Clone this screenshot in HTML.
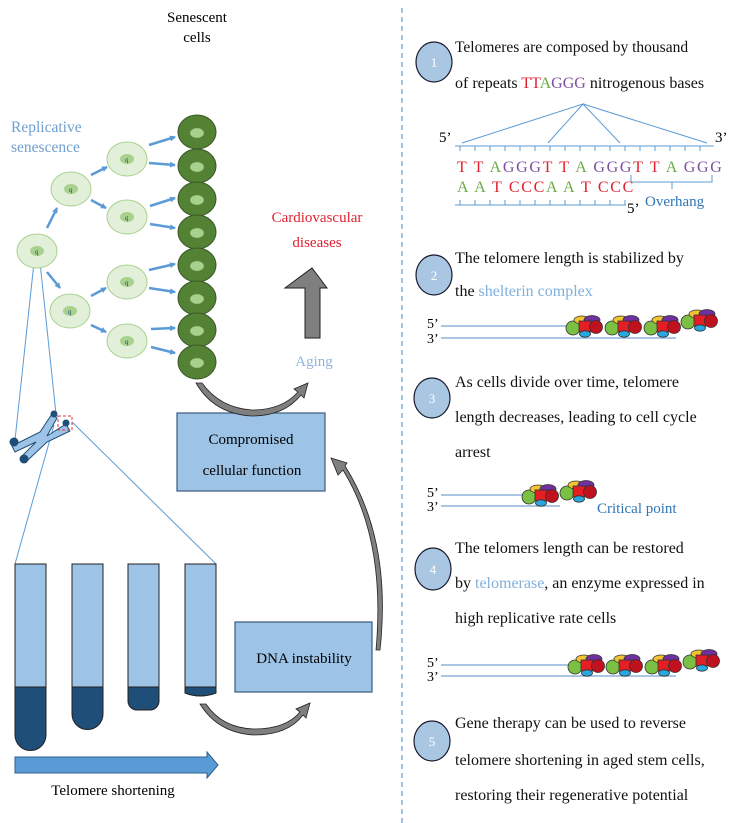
<!DOCTYPE html>
<html><head><meta charset="utf-8"><style>
html,body{margin:0;padding:0;background:#fff}
svg{display:block}
text{font-family:"Liberation Serif",serif}
</style></head><body>
<svg width="737" height="823" viewBox="0 0 737 823" xmlns="http://www.w3.org/2000/svg">
<defs>
<marker id="ba" markerWidth="6" markerHeight="6" refX="5" refY="3" orient="auto" markerUnits="userSpaceOnUse"><path d="M0,0 L6,3 L0,6 z" fill="#5b9bd5"/></marker>
<g id="cx">
<circle cx="0" cy="7" r="7" fill="#7ac143" stroke="#333" stroke-width="0.8"/>
<ellipse cx="9" cy="-1" rx="8" ry="4" fill="#f2c431" stroke="#333" stroke-width="0.8"/>
<ellipse cx="19" cy="-1" rx="8" ry="4.5" fill="#7030a0" stroke="#333" stroke-width="0.8"/>
<rect x="6" y="0" width="12" height="11" fill="#e31e24" stroke="#333" stroke-width="0.8"/>
<circle cx="23" cy="6" r="6.5" fill="#c0111f" stroke="#333" stroke-width="0.8"/>
<ellipse cx="12" cy="13" rx="5.5" ry="3.2" fill="#29a8e0" stroke="#333" stroke-width="0.8"/>
</g>
<g id="yc"><ellipse cx="0" cy="0" rx="20" ry="17" fill="#e2f0d9" stroke="#a9d18e" stroke-width="1"/><ellipse cx="0" cy="0" rx="7" ry="5" fill="#a9d18e"/><text x="-2" y="3" font-size="7" fill="#1f4e79">q</text></g>
<g id="oc"><ellipse cx="0" cy="0" rx="19" ry="17" fill="#548235" stroke="#385723" stroke-width="1"/><ellipse cx="0" cy="1" rx="7" ry="5" fill="#a9d18e" stroke="#6e9b4a" stroke-width="0.5"/></g>
</defs>

<line x1="402" y1="8" x2="402" y2="823" stroke="#5b9bd5" stroke-width="1.2" stroke-dasharray="5,4"/>

<text x="197" y="22" font-size="15" text-anchor="middle" fill="#000">Senescent</text>
<text x="197" y="42" font-size="15" text-anchor="middle" fill="#000">cells</text>
<text x="11" y="132" font-size="15.5" fill="#6f9fcf">Replicative</text>
<text x="11" y="152" font-size="15.5" fill="#6f9fcf">senescence</text>

<g stroke="#5b9bd5" stroke-width="1" fill="none">
<line x1="35" y1="253" x2="15" y2="440"/>
<line x1="39" y1="253" x2="56" y2="414"/>
<line x1="54" y1="425" x2="15" y2="564"/>
<line x1="72" y1="422" x2="216" y2="564"/>
</g>

<g stroke="#5b9bd5" stroke-width="2.5" marker-end="url(#ba)">
<line x1="47" y1="228" x2="57" y2="208"/>
<line x1="47" y1="272" x2="60" y2="288"/>
<line x1="91" y1="175" x2="107" y2="167"/>
<line x1="91" y1="200" x2="106" y2="208"/>
<line x1="91" y1="296" x2="106" y2="288"/>
<line x1="91" y1="325" x2="106" y2="332"/>
<line x1="149" y1="145" x2="175" y2="137"/>
<line x1="149" y1="163" x2="175" y2="165"/>
<line x1="150" y1="206" x2="175" y2="198"/>
<line x1="150" y1="224" x2="175" y2="228"/>
<line x1="149" y1="270" x2="175" y2="264"/>
<line x1="149" y1="288" x2="175" y2="292"/>
<line x1="151" y1="329" x2="175" y2="328"/>
<line x1="151" y1="347" x2="175" y2="353"/>
</g>

<use href="#yc" x="37" y="251"/>
<use href="#yc" x="71" y="189"/>
<use href="#yc" x="70" y="311"/>
<use href="#yc" x="127" y="159"/>
<use href="#yc" x="127" y="217"/>
<use href="#yc" x="127" y="282"/>
<use href="#yc" x="127" y="341"/>

<use href="#oc" x="197" y="132"/>
<use href="#oc" x="197" y="166"/>
<use href="#oc" x="197" y="199"/>
<use href="#oc" x="197" y="232"/>
<use href="#oc" x="197" y="265"/>
<use href="#oc" x="197" y="298"/>
<use href="#oc" x="197" y="330"/>
<use href="#oc" x="197" y="362"/>

<g stroke="#1f4e79" stroke-width="1" fill="#9dc3e6">
<path d="M12,446 L40,432 L52,414 L57,418 L47,436 L66,424 L70,431 L47,442 L28,460 L22,456 L36,442 L15,452 z"/>
</g>
<circle cx="14" cy="442" r="4.5" fill="#1f4e79"/>
<circle cx="24" cy="459" r="4.5" fill="#1f4e79"/>
<circle cx="54" cy="414" r="3.5" fill="#1f4e79"/>
<circle cx="66" cy="423" r="3.5" fill="#1f4e79"/>
<rect x="58" y="416" width="14" height="14" fill="none" stroke="#e03030" stroke-width="1" stroke-dasharray="3,2"/>

<g stroke="#222" stroke-width="1">
<rect x="15" y="564" width="31" height="123" fill="#9dc3e6"/>
<path d="M15,687 H46 V735 A15.5,15.5 0 0 1 15,735 z" fill="#1f4e79"/>
<rect x="72" y="564" width="31" height="123" fill="#9dc3e6"/>
<path d="M72,687 H103 V714 A15.5,15.5 0 0 1 72,714 z" fill="#1f4e79"/>
<rect x="128" y="564" width="31" height="123" fill="#9dc3e6"/>
<path d="M128,687 H159 V701 A9,9 0 0 1 150,710 H137 A9,9 0 0 1 128,701 z" fill="#1f4e79"/>
<rect x="185" y="564" width="31" height="123" fill="#9dc3e6"/>
<path d="M185,687 H216 V693 Q200,699 185,693 z" fill="#1f4e79"/>
</g>
<path d="M15,757 H207 V752 L218,765 L207,778 V773 H15 z" fill="#5b9bd5" stroke="#2e5f8f" stroke-width="1"/>
<text x="113" y="795" font-size="15" text-anchor="middle" fill="#000">Telomere shortening</text>

<rect x="177" y="413" width="148" height="78" fill="#9dc3e6" stroke="#3b5a7a" stroke-width="1.2"/>
<text x="251" y="444" font-size="15" text-anchor="middle">Compromised</text>
<text x="252" y="475" font-size="15" text-anchor="middle">cellular function</text>
<rect x="235" y="622" width="137" height="70" fill="#9dc3e6" stroke="#3b5a7a" stroke-width="1.2"/>
<text x="304" y="663" font-size="15" text-anchor="middle">DNA instability</text>

<g fill="#7f7f7f" stroke="#222" stroke-width="0.8">
<path d="M196,383 L202,383 Q220,408 252,410 Q282,410 298,392 L294,389 L308,383 L304,398 L301,395 Q284,416 252,416 Q214,414 196,383 z"/>
<path d="M200,704 L206,704 Q222,728 254,729 Q286,729 300,712 L296,709 L310,703 L306,718 L303,715 Q288,735 254,735 Q218,733 200,704 z"/>
<path d="M376,650 Q386,540 343,470 L338,475 L331,458 L347,463 L345,466 Q392,540 380,650 z"/>
</g>

<path d="M305,338 V288 H285 L312,268 L327,288 H320 V338 z" fill="#7f7f7f" stroke="#222" stroke-width="1"/>
<text x="317" y="222" font-size="15" text-anchor="middle" fill="#e02030">Cardiovascular</text>
<text x="317" y="247" font-size="15" text-anchor="middle" fill="#e02030">diseases</text>
<text x="314" y="366" font-size="15" text-anchor="middle" fill="#8fb3dc">Aging</text>

<g fill="#a9c7e3" stroke="#1a1a2e" stroke-width="1.2">
<ellipse cx="434" cy="62" rx="18" ry="20"/>
<ellipse cx="434" cy="275" rx="18" ry="20"/>
<ellipse cx="432" cy="398" rx="18" ry="20"/>
<ellipse cx="433" cy="569" rx="18" ry="21"/>
<ellipse cx="432" cy="741" rx="18" ry="20"/>
</g>
<g fill="#fff" font-size="13" text-anchor="middle">
<text x="434" y="67">1</text><text x="434" y="280">2</text><text x="432" y="403">3</text><text x="433" y="574">4</text><text x="432" y="746">5</text>
</g>

<g font-size="16" fill="#111">
<text x="455" y="52" font-size="15.5">Telomeres are composed by thousand</text>
<text x="455" y="88">of repeats <tspan fill="#e02030">TT</tspan><tspan fill="#6aaa45">A</tspan><tspan fill="#7b4fa0">GGG</tspan> nitrogenous bases</text>
<text x="455" y="263">The telomere length is stabilized by</text>
<text x="455" y="296">the <tspan fill="#7fb0dc">shelterin complex</tspan></text>
<text x="455" y="387">As cells divide over time, telomere</text>
<text x="455" y="422">length decreases, leading to cell cycle</text>
<text x="455" y="457">arrest</text>
<text x="455" y="553">The telomers length can be restored</text>
<text x="455" y="588">by <tspan fill="#7fb0dc">telomerase</tspan>, an enzyme expressed in</text>
<text x="455" y="623">high replicative rate cells</text>
<text x="455" y="728">Gene therapy can be used to reverse</text>
<text x="455" y="765">telomere shortening in aged stem cells,</text>
<text x="455" y="800">restoring their regenerative potential</text>
</g>

<g stroke="#5b9bd5" stroke-width="1" fill="none">
<path d="M462,143 L583,104 L548,143 M583,104 L620,143 M583,104 L707,143"/>
<line x1="455" y1="146" x2="714" y2="146"/>
<path d="M460,146v5M475,146v5M490,146v5M505,146v5M520,146v5M535,146v5M550,146v5M565,146v5M580,146v5M595,146v5M610,146v5M625,146v5M640,146v5M655,146v5M670,146v5M685,146v5M700,146v5"/>
<line x1="455" y1="205" x2="626" y2="205"/>
<path d="M460,205v-5M475,205v-5M490,205v-5M505,205v-5M520,205v-5M535,205v-5M550,205v-5M565,205v-5M580,205v-5M595,205v-5M610,205v-5M625,205v-5"/>
<path d="M631,175 V182 H712 V175 M672,182 V189"/>
</g>
<text x="439" y="142" font-size="15">5’</text>
<text x="715" y="142" font-size="15">3’</text>
<text x="627" y="213" font-size="15">5’</text>
<text x="645" y="206" font-size="15" fill="#2e75b6">Overhang</text>
<g font-size="16">
<text x="457" y="172" letter-spacing="1.7"><tspan fill="#e02030">T T </tspan><tspan fill="#6aaa45">A</tspan><tspan fill="#7b4fa0">GGG</tspan><tspan fill="#e02030">T T </tspan><tspan fill="#6aaa45">A </tspan><tspan fill="#7b4fa0">GGG</tspan><tspan fill="#e02030">T T </tspan><tspan fill="#6aaa45">A </tspan><tspan fill="#7b4fa0">GGG</tspan></text>
<text x="457" y="192" letter-spacing="1.7"><tspan fill="#6aaa45">A A </tspan><tspan fill="#e02030">T CCC</tspan><tspan fill="#6aaa45">A A </tspan><tspan fill="#e02030">T CCC</tspan></text>
</g>

<g stroke="#8fb3dc" stroke-width="1.5">
<line x1="441" y1="326" x2="572" y2="326"/><line x1="441" y1="338" x2="676" y2="338"/>
<line x1="441" y1="495" x2="528" y2="495"/><line x1="441" y1="506" x2="560" y2="506"/>
<line x1="441" y1="665" x2="572" y2="665"/><line x1="441" y1="676" x2="676" y2="676"/>
</g>
<g font-size="14">
<text x="427" y="328">5’</text><text x="427" y="343">3’</text>
<text x="427" y="497">5’</text><text x="427" y="511">3’</text>
<text x="427" y="667">5’</text><text x="427" y="681">3’</text>
</g>
<use href="#cx" x="573" y="321"/><use href="#cx" x="612" y="321"/><use href="#cx" x="651" y="321"/><use href="#cx" x="688" y="315"/>
<use href="#cx" x="529" y="490"/><use href="#cx" x="567" y="486"/>
<use href="#cx" x="575" y="660"/><use href="#cx" x="613" y="660"/><use href="#cx" x="652" y="660"/><use href="#cx" x="690" y="655"/>
<text x="597" y="513" font-size="15" fill="#2e75b6">Critical point</text>
</svg>
</body></html>
